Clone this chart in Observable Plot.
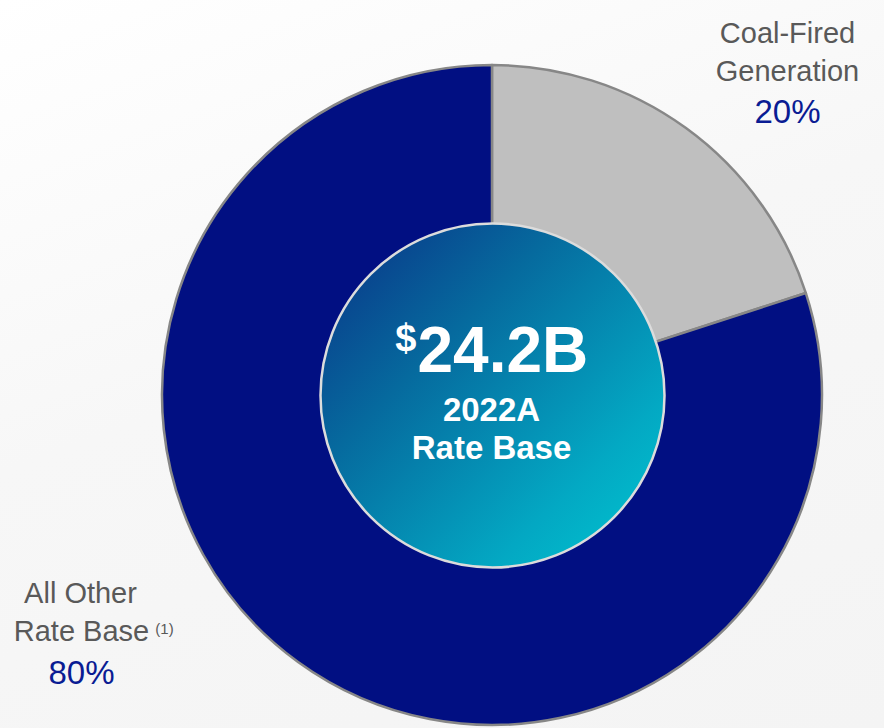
<!DOCTYPE html>
<html>
<head>
<meta charset="utf-8">
<script src="https://cdn.jsdelivr.net/npm/d3@7"></script>
<script src="https://cdn.jsdelivr.net/npm/@observablehq/plot@0.6"></script>
<style>
  html, body { margin: 0; padding: 0; }
  body { width: 884px; height: 728px; overflow: hidden;
         background: linear-gradient(160deg, #ffffff 0%, #f7f7f7 45%, #f4f4f4 100%); }
  svg { display: block; }
</style>
</head>
<body>
<div id="chart"></div>
<script>
// ---- data ----
const categories = ["Coal-Fired Generation", "All Other Rate Base"];
const shares = [20, 80];
const labelLines = [["Coal-Fired", "Generation"], ["All Other", "Rate Base"]];
const shareLabels = ["20%", "80%"];
const centerValue = "24.2B";
const centerCurrency = "$";
const centerLines = ["2022A", "Rate Base"];
const footnote = "(1)";

// ---- layout (pixels) ----
const W = 884, H = 728;
const CX = 492, CY = 395, R = 330, RIN = 172;
const NAVY = "#010f82", GRAY = "#bfbfbf", EDGE = "#878787";
const TXT = "#595959", PCT = "#0a1c93";
const FONT = "Liberation Sans, Arial, sans-serif";

const slices = categories.map((c, i) => ({category: c, value: shares[i], fill: i === 0 ? GRAY : NAVY}));
const arcs = d3.pie().sort(null).value(d => d.value)(slices);

// function mark drawing pie wedges through Plot scales
const pieMark = (index, scales) => {
  const cx = scales.x(CX), cy = scales.y(CY);
  const r = scales.x(CX + R) - cx;
  const arc = d3.arc().innerRadius(0).outerRadius(r);
  const g = d3.create("svg:g").attr("transform", `translate(${cx},${cy})`);
  g.selectAll("path").data(arcs).join("path")
    .attr("d", arc)
    .attr("fill", d => d.data.fill)
    .attr("stroke", EDGE)
    .attr("stroke-width", 2.5)
    .attr("stroke-linejoin", "round");
  return g.node();
};

const labelTexts = [
  {x: 787, y: 42, text: labelLines[0][0]},
  {x: 787, y: 80, text: labelLines[0][1]},
  {x: 80, y: 602, text: labelLines[1][0]},
  {x: 81, y: 640, text: labelLines[1][1]},
];
const pctTexts = [
  {x: 787, y: 122, text: shareLabels[0]},
  {x: 81, y: 683, text: shareLabels[1]},
];

const chart = Plot.plot({
  width: W, height: H,
  margin: 0,
  x: {domain: [0, W], range: [0, W], axis: null},
  y: {domain: [0, H], range: [0, H], axis: null},
  style: {background: "transparent", overflow: "visible"},
  marks: [
    pieMark,
    Plot.dot([{x: CX, y: CY}], {x: "x", y: "y", r: RIN, fill: "url(#centerGrad)", stroke: "#dcdcdc", strokeWidth: 2.5}),
    Plot.text(labelTexts, {x: "x", y: "y", text: "text", fill: TXT, fontSize: 29, fontFamily: FONT, textAnchor: "middle", lineAnchor: "bottom"}),
    Plot.text(pctTexts, {x: "x", y: "y", text: "text", fill: PCT, fontSize: 33, fontFamily: FONT, textAnchor: "middle", lineAnchor: "bottom"}),
    Plot.text([footnote], {x: () => 164, y: () => 633, text: d => d, fill: TXT, fontSize: 15, fontFamily: FONT, textAnchor: "middle", lineAnchor: "bottom"}),
    Plot.text([centerCurrency], {x: () => 416, y: () => 350, text: d => d, fill: "white", fontSize: 38, fontWeight: "bold", fontFamily: FONT, textAnchor: "end", lineAnchor: "bottom"}),
    Plot.text([centerValue], {x: () => 417, y: () => 371, text: d => d, fill: "white", fontSize: 64, fontWeight: "bold", fontFamily: FONT, textAnchor: "start", lineAnchor: "bottom"}),
    Plot.text(centerLines.map((t, i) => ({t, i})), {x: () => 491, y: d => 420 + d.i * 38, text: "t", fill: "white", fontSize: 33, fontWeight: "bold", fontFamily: FONT, textAnchor: "middle", lineAnchor: "bottom"})
  ]
});

const defs = d3.select(chart).insert("defs", ":first-child");
const grad = defs.append("linearGradient").attr("id", "centerGrad")
  .attr("x1", "0%").attr("y1", "0%").attr("x2", "100%").attr("y2", "100%");
grad.append("stop").attr("offset", "0%").attr("stop-color", "#0a2f85");
grad.append("stop").attr("offset", "35%").attr("stop-color", "#066a9e");
grad.append("stop").attr("offset", "75%").attr("stop-color", "#03a8c3");
grad.append("stop").attr("offset", "100%").attr("stop-color", "#00c8d2");

document.getElementById("chart").appendChild(chart);
</script>
</body>
</html>
